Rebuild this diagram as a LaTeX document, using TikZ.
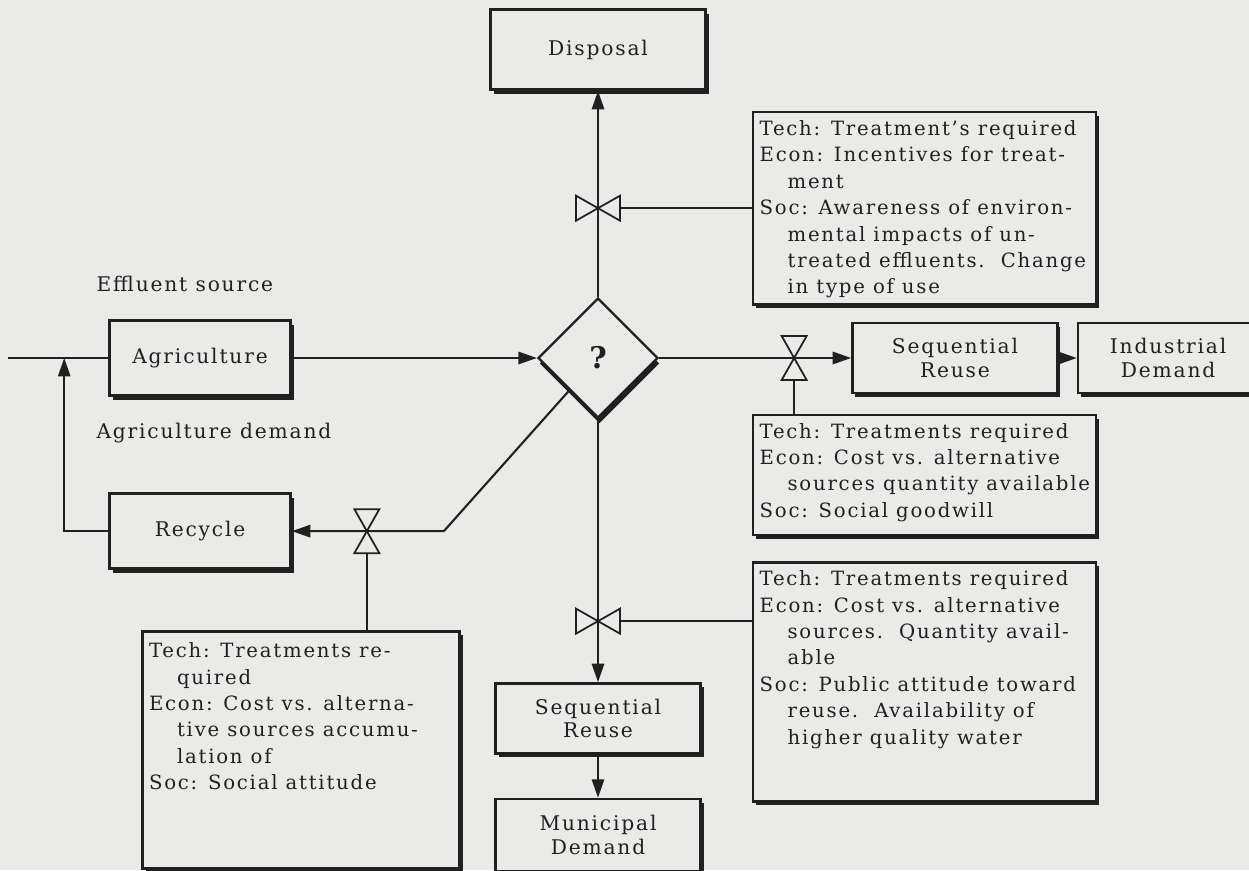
\documentclass[tikz,border=0pt]{standalone}
\usepackage{fontspec}
\setmainfont{DejaVu Serif}[LetterSpace=9]
\usetikzlibrary{shapes.geometric, arrows.meta, positioning, calc, shadows}

\definecolor{paper}{RGB}{234,234,232}
\definecolor{ink}{RGB}{32,32,32}
\newcommand{\titlefont}{\fontsize{11.5}{13.6}\selectfont}
\newcommand{\notesfont}{\fontsize{11.2}{15}\selectfont}
\newcommand{\hang}{\hspace*{0.56cm}}
\newcommand{\boxtext}[3]{\parbox[c][#2][t]{#1}{\raggedright #3}}

\begin{document}
\begin{tikzpicture}[
    color=ink,
    mainbox/.style={rectangle, draw, line width=1.5pt, fill=paper, minimum width=4.1cm, minimum height=1.4cm, align=center, inner sep=2pt, font=\titlefont, drop shadow={shadow xshift=0.06cm, shadow yshift=-0.08cm, fill=ink, opacity=1}},
    notebox/.style={rectangle, draw, line width=1.5pt, fill=paper, inner xsep=0.13cm, inner ysep=0.17cm, font=\notesfont, drop shadow={shadow xshift=0.06cm, shadow yshift=-0.08cm, fill=ink, opacity=1}},
    decision/.style={diamond, draw, line width=1.3pt, fill=paper, aspect=1, minimum size=2.4cm, inner sep=0pt, font=\fontsize{17}{18}\selectfont\bfseries, drop shadow={shadow xshift=0.03cm, shadow yshift=-0.11cm, fill=ink, opacity=1}},
    flowlabel/.style={inner sep=0pt, font=\titlefont},
    flow/.style={-{Triangle[length=10.5pt, width=7pt]}, line width=1.2pt},
    control/.style={line width=1.2pt},
    valve/.pic={\draw[line width=1pt, fill=paper] (0,0) -- (-0.44,0.25) -- (-0.44,-0.25) -- cycle (0,0) -- (0.44,0.25) -- (0.44,-0.25) -- cycle;},
]

\fill[paper] (0,0) rectangle (24.98,-17.4);
\useasboundingbox (0,0) rectangle (24.98,-17.4);

% ============ Decision and effluent source ============
\node[decision] (decide) at (11.96,-7.16) {?};

\node[mainbox, minimum width=3.62cm, minimum height=1.5cm, left=4.9cm of decide] (agri) {Agriculture};
\node[flowlabel, above=0.55cm of agri.north west, anchor=south west, xshift=-0.24cm] (effsrc) {Effluent source};
\node[flowlabel, below=0.52cm of agri.south west, anchor=north west, xshift=-0.24cm] (agdemand) {Agriculture demand};
\node[mainbox, minimum width=3.62cm, minimum height=1.5cm, below=1.91cm of agri] (recycle) {Recycle};

\coordinate (srcin) at ($(agri.west)+(-2.0,0)$);
\coordinate (merge) at ($(agri.west)+(-0.88,0)$);

% ============ Disposal ============
\node[mainbox, minimum width=4.3cm, minimum height=1.6cm, above=4.12cm of decide] (disposal) {Disposal};

\node[notebox, below right=0.4cm and 0.9cm of disposal.south east] (tr) {\boxtext{6.6cm}{3.5cm}{%
    Tech: Treatment's required\\
    Econ: Incentives for treat-\\
    \hang ment\\
    Soc: Awareness of environ-\\
    \hang mental impacts of un-\\
    \hang\mbox{treated effluents.\ \ Change}\\
    \hang in type of use}};

% ============ Industrial reuse ============
\node[mainbox, right=3.84cm of decide] (seqa) {Sequential\\Reuse};
\node[mainbox, minimum width=3.6cm, right=0.36cm of seqa] (indd) {Industrial\\Demand};

\node[notebox, below=2.16cm of tr] (mr) {\boxtext{6.6cm}{2.06cm}{%
    Tech: Treatments required\\
    Econ: Cost vs. alternative\\
    \hang\mbox{sources quantity available}\\
    Soc: Social goodwill}};

% ============ Municipal reuse ============
\node[notebox, below=0.5cm of mr] (br) {\boxtext{6.6cm}{4.44cm}{%
    Tech: Treatments required\\
    Econ: Cost vs. alternative\\
    \hang\mbox{sources.\ \ Quantity avail-}\\
    \hang able\\
    Soc: Public attitude toward\\
    \hang\mbox{reuse.\ \ Availability of}\\
    \hang higher quality water}};

\node[mainbox, below=5.26cm of decide] (seqb) {Sequential\\Reuse};
\node[mainbox, minimum height=1.44cm, below=0.86cm of seqb] (mund) {Municipal\\Demand};

% ============ Recycle constraints ============
\node[notebox, inner ysep=0.23cm, anchor=north west] (ll) at ($(recycle.south west)+(0.66,-1.2)$) {\boxtext{6.08cm}{4.28cm}{%
    Tech: Treatments re-\\
    \hang quired\\
    Econ: Cost vs. alterna-\\
    \hang\mbox{tive sources accumu-}\\
    \hang lation of\\
    Soc: Social attitude}};

% valve points
\coordinate (v1) at (decide |- tr.west);
\coordinate (v2) at ($(decide.east)+(2.7,0)$);
\coordinate (brtap) at ($(br.north west)+(0,-1.2)$);
\coordinate (v3) at (decide |- brtap);
\coordinate (bend) at ($(recycle.east)+(3.04,0)$);
\coordinate (v4) at ($(recycle.east)+(1.5,0)$);
\coordinate (spill) at ($(decide.west)!0.53!(decide.south)$);

% connectors
\draw[control] (srcin) -- (agri.west);
\draw[flow] (recycle.west) -| (merge);
\draw[flow] (agri) -- (decide);
\draw[flow] (decide) -- (disposal);
\draw[control] (tr.west) -- (v1);
\draw[flow] (decide) -- (seqa);
\draw[flow] (seqa) -- (indd);
\draw[control] (mr.north -| v2) -- (v2);
\draw[flow] (decide) -- (seqb);
\draw[control] (brtap) -- (v3);
\draw[flow] (seqb) -- (mund);
\draw[flow] (spill) -- (bend) -- (recycle.east);
\draw[control] (ll.north -| v4) -- (v4);

% valves
\pic at (v1) {valve};
\pic[rotate=90] at (v2) {valve};
\pic at (v3) {valve};
\pic[rotate=90] at (v4) {valve};

\end{tikzpicture}
\end{document}
